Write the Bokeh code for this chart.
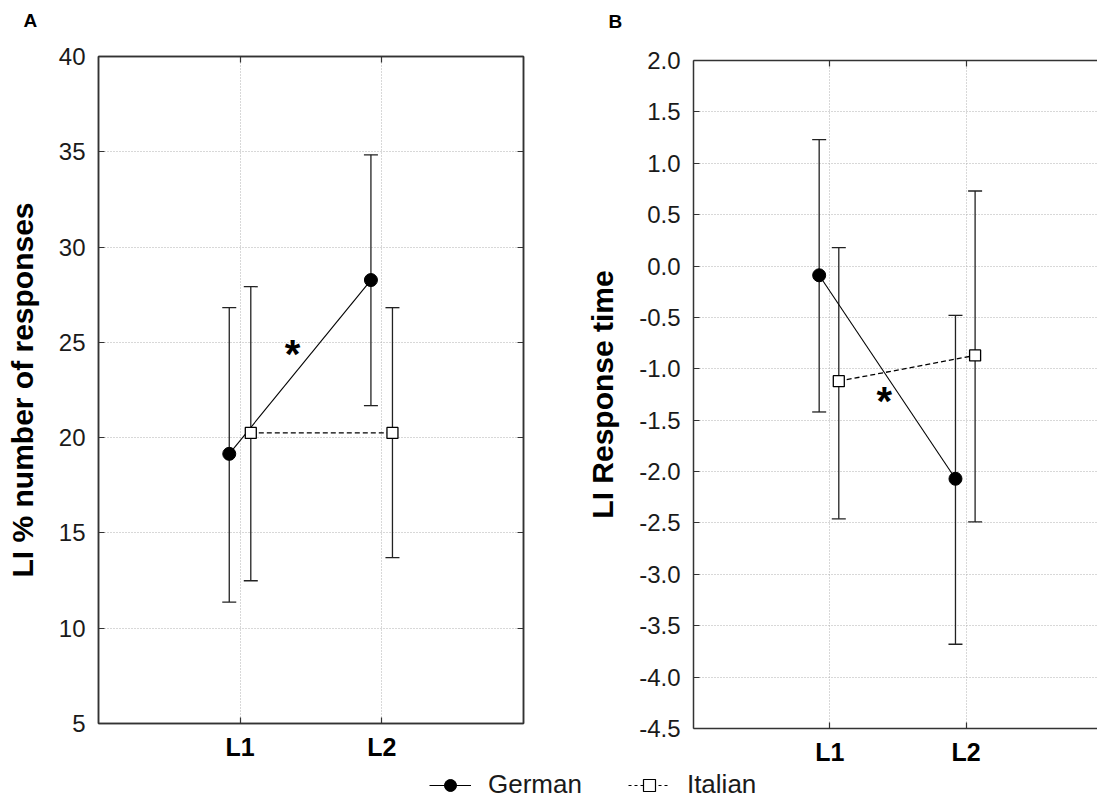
from bokeh.plotting import figure
from bokeh.models import (Range1d, FixedTicker, LinearAxis, Whisker, TeeHead, ColumnDataSource,
                          Legend, LegendItem, PrintfTickFormatter, Label)
from bokeh.layouts import column, row
from bokeh.embed import file_html
from bokeh.resources import INLINE

# ---------------- data ----------------
categories = ["L1", "L2"]
series_names = ["German", "Italian"]
panel_letters = ["A", "B"]

# Panel A: LI % number of responses
a_german_mean = [19.15, 28.27]
a_german_low = [11.37, 21.68]
a_german_high = [26.82, 34.84]
a_italian_mean = [20.25, 20.25]
a_italian_low = [12.49, 13.70]
a_italian_high = [27.92, 26.82]
a_yticks = [5, 10, 15, 20, 25, 30, 35, 40]
a_ylabel = "LI % number of responses"

# Panel B: LI Response time
b_german_mean = [-0.09, -2.07]
b_german_low = [-1.42, -3.68]
b_german_high = [1.23, -0.48]
b_italian_mean = [-1.12, -0.87]
b_italian_low = [-2.46, -2.49]
b_italian_high = [0.18, 0.73]
b_yticks = [2.0, 1.5, 1.0, 0.5, 0.0, -0.5, -1.0, -1.5, -2.0, -2.5, -3.0, -3.5, -4.0, -4.5]
b_ylabel = "LI Response time"

FONT = "Liberation Sans"
AXIS_COLOR = "#333333"
TEXT_COLOR = "#1a1a1a"
GRID_COLOR = "#b0b0b0"
TOP_STRIP = 36


def style_axis(ax):
    ax.axis_line_color = AXIS_COLOR
    ax.axis_line_width = 1.5
    ax.major_tick_line_color = AXIS_COLOR
    ax.major_tick_line_width = 1.2
    ax.major_tick_in = 6
    ax.major_tick_out = 0
    ax.minor_tick_line_color = None


def blank_axis(ticks):
    ax = LinearAxis(ticker=FixedTicker(ticks=ticks), major_label_text_font_size="1px",
                    major_label_text_color=None, major_label_standoff=0)
    style_axis(ax)
    return ax


def make_panel(ylabel, yticks, yfmt, y_start, y_end, x_end,
               g_mean, g_low, g_high, i_mean, i_low, i_high, g_off, i_off,
               star_xy, width_frame, height_frame, mb_left, mb_right, mb_top, mb_bottom,
               full_box):
    p = figure(frame_width=width_frame, frame_height=height_frame,
               x_range=Range1d(0, x_end), y_range=Range1d(y_start, y_end),
               output_backend="svg", toolbar_location=None,
               min_border_left=mb_left, min_border_right=mb_right,
               min_border_top=mb_top, min_border_bottom=mb_bottom,
               background_fill_color="white", border_fill_color="white")
    p.outline_line_color = AXIS_COLOR if full_box else None
    p.outline_line_width = 1.5

    # x axis
    xt = [i + 1 for i in range(len(categories))]
    p.xaxis.ticker = FixedTicker(ticks=xt)
    p.xaxis.major_label_overrides = {t: c for t, c in zip(xt, categories)}
    p.xaxis.major_label_text_font = FONT
    p.xaxis.major_label_text_font_size = "25px"
    p.xaxis.major_label_text_font_style = "bold"
    p.xaxis.major_label_text_color = "black"
    p.xaxis.major_label_standoff = 9
    style_axis(p.xaxis[0])

    # y axis
    p.yaxis.ticker = FixedTicker(ticks=yticks)
    p.yaxis.formatter = PrintfTickFormatter(format=yfmt)
    p.yaxis.major_label_text_font = FONT
    p.yaxis.major_label_text_font_size = "24px"
    p.yaxis.major_label_text_color = TEXT_COLOR
    p.yaxis.major_label_standoff = 13
    p.yaxis.axis_label = ylabel
    p.yaxis.axis_label_text_font = FONT
    p.yaxis.axis_label_text_font_size = "30px"
    p.yaxis.axis_label_text_font_style = "bold"
    p.yaxis.axis_label_text_color = "black"
    p.yaxis.axis_label_standoff = 17
    style_axis(p.yaxis[0])

    # top / right frame axes with inward ticks
    p.add_layout(blank_axis(xt), "above")
    if full_box:
        p.add_layout(blank_axis(yticks), "right")

    # grid
    for g in (p.xgrid, p.ygrid):
        g.grid_line_color = GRID_COLOR
        g.grid_line_dash = "1 2"
        g.grid_line_width = 1
    p.xgrid.ticker = FixedTicker(ticks=xt)
    p.ygrid.ticker = FixedTicker(ticks=yticks)

    gx = [i + 1 + g_off for i in range(len(categories))]
    ix = [i + 1 + i_off for i in range(len(categories))]
    gsrc = ColumnDataSource(dict(x=gx, m=g_mean, lo=g_low, hi=g_high))
    isrc = ColumnDataSource(dict(x=ix, m=i_mean, lo=i_low, hi=i_high))

    for src in (gsrc, isrc):
        w = Whisker(base="x", lower="lo", upper="hi", source=src, dimension="height",
                    line_color="#222222", line_width=1.3,
                    upper_head=TeeHead(size=14, line_color="#222222", line_width=1.3),
                    lower_head=TeeHead(size=14, line_color="#222222", line_width=1.3))
        p.add_layout(w)

    p.line("x", "m", source=isrc, line_color="black", line_width=1.3, line_dash="5 3")
    p.line("x", "m", source=gsrc, line_color="black", line_width=1.1)
    p.scatter("x", "m", source=gsrc, marker="circle", size=13, fill_color="black",
              line_color="black")
    p.scatter("x", "m", source=isrc, marker="square", size=11, fill_color="white",
              line_color="black", line_width=1.3)

    p.add_layout(Label(x=star_xy[0], y=star_xy[1], text="*", text_font=FONT,
                       text_font_size="40px", text_font_style="bold", text_color="black",
                       text_align="center", text_baseline="middle"))
    return p


pA = make_panel(a_ylabel, a_yticks, "%d", 5, 40, 3,
                a_german_mean, a_german_low, a_german_high,
                a_italian_mean, a_italian_low, a_italian_high, -0.077, 0.075,
                (1.37, 24.4), 425, 667, 98, 37, 56 - TOP_STRIP, 43, True)

pB = make_panel(b_ylabel, b_yticks, "%.1f", -4.5, 2.0, 2.964,
                b_german_mean, b_german_low, b_german_high,
                b_italian_mean, b_italian_low, b_italian_high, -0.078, 0.066,
                (1.40, -1.31), 404, 668, 133, 0, 60 - TOP_STRIP, 38, False)

# top strip with the panel letters (coordinates in page pixels, measured from the top)
pt = figure(width=1097, height=TOP_STRIP, x_range=Range1d(0, 1097),
            y_range=Range1d(TOP_STRIP, 0), output_backend="svg", toolbar_location=None,
            min_border=0, x_axis_location=None, y_axis_location=None)
pt.outline_line_color = None
pt.grid.visible = False
for letter, lx_, ly_ in zip(panel_letters, [23, 608], [9, 10]):
    pt.add_layout(Label(x=lx_, y=ly_, text=letter, text_font=FONT, text_font_size="19px",
                        text_font_style="bold", text_color="black",
                        text_align="left", text_baseline="top"))

# legend strip (renderers hold the real series but lie outside this strip's ranges)
pl = figure(width=1097, height=33, x_range=(100, 101), y_range=(100, 101),
            output_backend="svg", toolbar_location=None, min_border=0,
            x_axis_location=None, y_axis_location=None)
pl.outline_line_color = None
pl.grid.visible = False
lx = [i + 1 for i in range(len(categories))]
gl = pl.line(lx, a_german_mean, line_color="black", line_width=1.1)
gs = pl.scatter(lx, a_german_mean, marker="circle", fill_color="black", line_color="black")
il = pl.line(lx, a_italian_mean, line_color="black", line_width=1.2, line_dash="3 3")
isq = pl.scatter(lx, a_italian_mean, marker="square", fill_color="white", line_color="black",
                 line_width=1.2)
legend = Legend(items=[LegendItem(label=series_names[0], renderers=[gl, gs]),
                       LegendItem(label=series_names[1], renderers=[il, isq])],
                orientation="horizontal", location=(429, 1), glyph_width=42, glyph_height=30,
                label_height=30, label_standoff=17, spacing=46, padding=0, margin=0,
                border_line_color=None, background_fill_color=None,
                label_text_font=FONT, label_text_font_size="26px", label_text_color=TEXT_COLOR)
pl.add_layout(legend)

# wrap each panel on its own so that the two frames keep their own top/bottom edges
layout = column(pt, row(column(pA), column(pB)), pl)
open("out.html", "w").write(file_html(layout, INLINE))
